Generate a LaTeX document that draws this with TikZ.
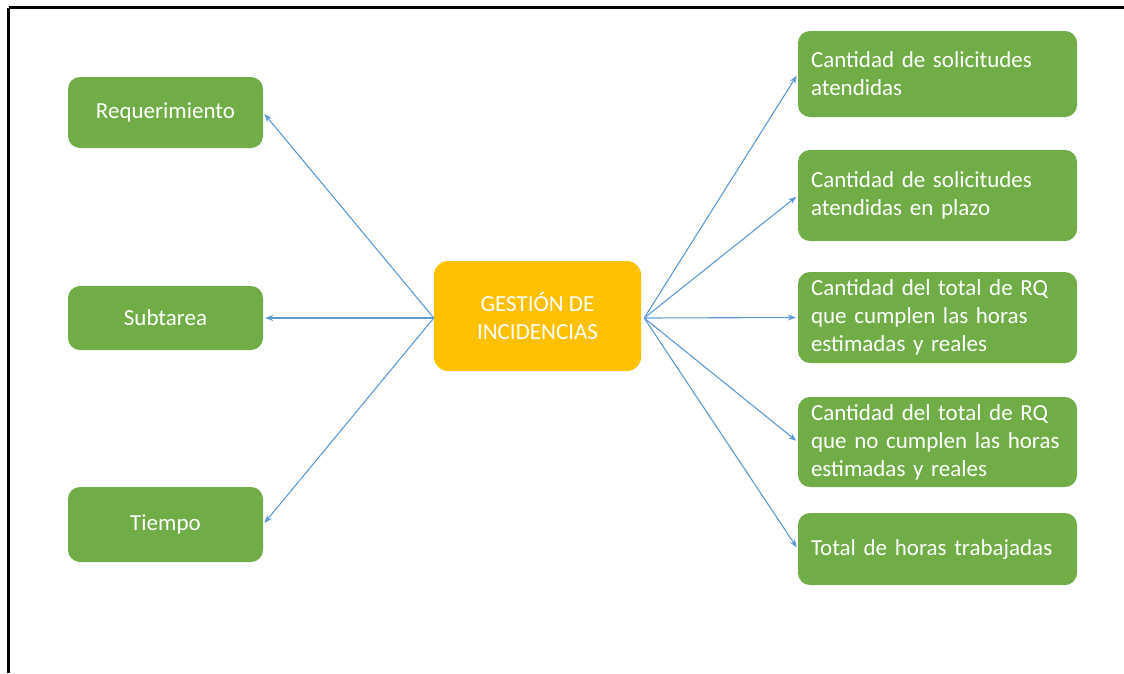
\documentclass[tikz,border=0pt]{standalone}
\usepackage{fontspec}
\setmainfont{Carlito}
\usetikzlibrary{arrows.meta}
\definecolor{boxgreen}{HTML}{70AD47}
\definecolor{hubgold}{HTML}{FFC000}
\definecolor{linkblue}{HTML}{5B9BD5}
\tikzset{
  leaf/.style={draw=none, fill=boxgreen, rounded corners=12pt, text=white,
    font=\fontsize{23}{28}\selectfont, inner sep=0pt},
  leftleaf/.style={leaf, minimum width=195pt, align=center},
  rightleaf/.style={leaf, minimum width=279pt, text width=253pt, align=left},
  hub/.style={draw=none, fill=hubgold, rounded corners=14pt, text=white,
    font=\fontsize{23}{28}\selectfont, minimum width=207pt, minimum height=110pt,
    align=center, inner sep=0pt},
  link/.style={draw=linkblue, line width=1.1pt,
    -{Stealth[length=8pt,width=6pt]}, shorten >=2pt}
}
\begin{document}
\begin{tikzpicture}[x=1pt,y=-1pt]
  \useasboundingbox (0,0) rectangle (1124,673);
  % frame: top and left rules
  \draw[line width=2.8pt] (8.5,7.5) -- (1124,7.5);
  \draw[line width=2.8pt] (8.5,7.5) -- (8.5,673);

  % hub
  \node[hub] (c) at (537.5,316) {GESTIÓN DE\\INCIDENCIAS};

  % left leaves
  \node[leftleaf, minimum height=71pt] (req) at (165.5,112.5) {Requerimiento};
  \node[leftleaf, minimum height=64pt] (sub) at (165.5,318) {Subtarea};
  \node[leftleaf, minimum height=75pt] (tie) at (165.5,524.5) {Tiempo};

  % right leaves
  \node[rightleaf, minimum height=86pt] (r1) at (937.5,74) {Cantidad de solicitudes\\atendidas};
  \node[rightleaf, minimum height=91pt] (r2) at (937.5,195.5) {Cantidad de solicitudes\\atendidas en plazo};
  \node[rightleaf, minimum height=91pt] (r3) at (937.5,317.5) {Cantidad del total de RQ\\que cumplen las horas\\estimadas y reales};
  \node[rightleaf, minimum height=90pt] (r4) at (937.5,442) {Cantidad del total de RQ\\que no cumplen las horas\\estimadas y reales};
  \node[rightleaf, minimum height=72pt] (r5) at (937.5,549) {Total de horas trabajadas};

  % connectors
  \coordinate (cw) at ([yshift=-2pt]c.west);
  \coordinate (ce) at ([xshift=3pt,yshift=-2pt]c.east);
  \foreach \t in {req,sub,tie} \draw[link] (cw) -- (\t.east);
  \foreach \t in {r1,r2,r3,r4,r5} \draw[link] (ce) -- (\t.west);
\end{tikzpicture}
\end{document}
